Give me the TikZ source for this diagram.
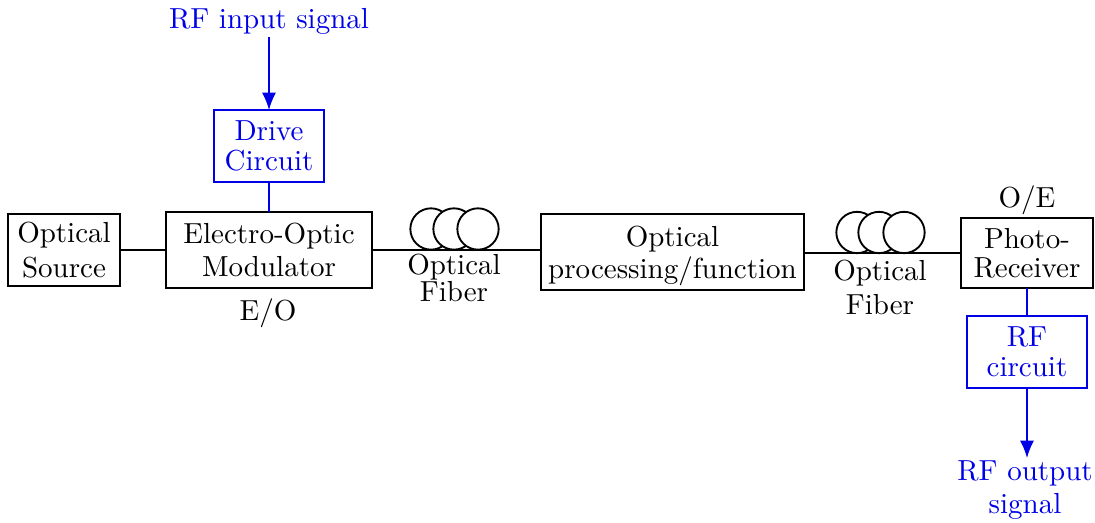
\documentclass[tikz,border=0pt]{standalone}
\usetikzlibrary{arrows.meta}
\definecolor{rfblue}{RGB}{0,0,230}
\tikzset{
 ls/.style={font=\fontsize{10}{#1}\selectfont},
 box/.style={draw,line width=1.5pt,inner sep=0pt,outer sep=0pt,align=center,scale=2.175},
 bbox/.style={box,draw=rfblue,text=rfblue},
 lab/.style={inner sep=0pt,outer sep=0pt,align=center,scale=2.175},
 blab/.style={lab,text=rfblue},
 conn/.style={line width=1.2pt},
 bconn/.style={conn,draw=rfblue},
 barrow/.style={bconn,-{Latex[length=13pt,width=10.5pt]}},
 coil/.style={circle,draw,fill=white,line width=1.4pt,minimum size=31pt,inner sep=0pt}
}
\begin{document}
\begin{tikzpicture}[x=0.75pt,y=-0.75pt]
\useasboundingbox (0,0) rectangle (1095,523);
\node[box,ls=12.2,minimum width=38.6pt,minimum height=24.8pt] (src) at (64,250) {Optical\\Source};
\node[box,ls=11.6,minimum width=71pt,minimum height=26.2pt] (mod) at (269,250) {Electro-Optic\\Modulator};
\node[box,ls=11,minimum width=90.4pt,minimum height=26.2pt] (proc) at (672.5,252) {\rule{0pt}{9.6pt}Optical\\processing/function};
\node[box,ls=10,minimum width=45.5pt,minimum height=23.8pt] (pr) at (1027,253) {Photo-\\Receiver};
\node[bbox,ls=10.3,minimum width=38.2pt,minimum height=24.8pt] (drv) at (269,146) {Drive\\Circuit};
\node[bbox,ls=10.2,minimum width=41.4pt,minimum height=24.8pt] (rfc) at (1027,352) {RF\\circuit};
\node[blab,ls=12] (rfin) at (269,21) {RF input signal};
\node[blab,ls=11.2] (rfout) at (1025,490) {RF output\\signal};
\node[lab,ls=12] (eo) at (268,313) {E/O};
\node[lab,ls=12] (oe) at (1027,200) {O/E};
\coordinate (rfoutend) at (1027,458);
\coordinate (rfinstart) at (269,37);
\draw[conn] (src.east |- 0,250) -- (mod.west |- 0,250);
\draw[conn] (mod.east |- 0,250) -- (proc.west |- 0,250);
\draw[conn] (proc.east |- 0,253) -- (pr.west |- 0,253);
\draw[bconn] (drv) -- (mod);
\draw[bconn] (rfc.north) -- (pr.south -| rfc.north);
\draw[barrow] (rfinstart) -- (drv.north);
\draw[barrow] (rfc.south) -- (rfoutend);
\node[coil] (c1) at (431,229) {};
\node[coil] (c2) at (454,229) {};
\node[coil] (c3) at (478,229) {};
\node[coil] (c4) at (857,232.5) {};
\node[coil] (c5) at (879,232.5) {};
\node[coil] (c6) at (904,232.5) {};
\node[lab,ls=9.3] (f1) at (454,278) {Optical\\Fiber};
\node[lab,ls=11.6] (f2) at (880,287.5) {Optical\\Fiber};
\end{tikzpicture}
\end{document}
